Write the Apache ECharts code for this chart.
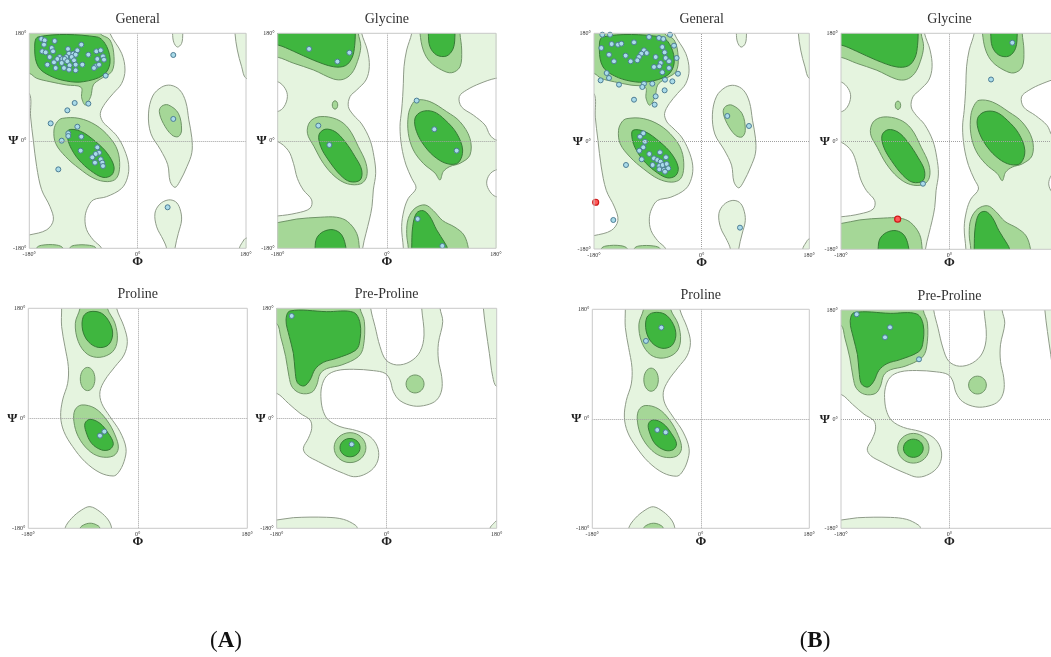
<!DOCTYPE html>
<html><head><meta charset="utf-8">
<script src="https://cdn.jsdelivr.net/npm/echarts@6/dist/echarts.min.js"></script>
<style>html,body{margin:0;padding:0;background:#fff}#c{width:1051px;height:657px}</style>
</head><body><div id="c"></div>
<script>
// ---------- text ----------
const PANEL_TITLES = ['General', 'Glycine', 'Proline', 'Pre-Proline'];
const GROUP_LABELS = ['A', 'B'];
const AXIS_TICKS = [-180, 0, 180];
const PHI_NAME = 'Φ', PSI_NAME = 'Ψ';

// ---------- contour regions [phi, psi] (points beyond ±180 lie outside the frame and are clipped) ----------
// General
const G_LIGHT_MAIN = [[-200,200],[-48,200],[-46,180],[-26.6,146.5],[-21,118.6],[-26.6,96],[-40.4,79.5],[-54,62.8],[-62,46],[-58,32],[-48,22],[-33.7,7],[-22,-15],[-15,-40],[-17,-62],[-27,-80],[-51.5,-93.5],[-73.7,-99],[-83.6,-113],[-87.5,-129.7],[-84.7,-149],[-73.7,-166],[-59.8,-180],[-57,-200],[-200,-200],[-200,-160],[-180,-157.6],[-151,-149],[-140,-132.5],[-145.7,-110],[-159.5,-82],[-167.8,-43],[-173.4,1.4],[-177.8,40],[-180,79.5],[-200,82]];
const G_LIGHT_LA = [[55,93],[70,85],[80,65],[85,35],[90,5],[90,-20],[82,-43],[70,-68],[62,-78],[54,-68],[50,-40],[38,-15],[22,12],[18,45],[25,75],[40,90]];
const G_LIGHT_LOW = [[51,-99],[63,-102],[70,-113],[73,-132.5],[67.6,-155],[62,-180],[62,-200],[48,-200],[48,-180],[42.6,-166],[31.6,-144],[28.8,-121],[37,-106]];
const G_LIGHT_TOP = [[58,200],[58,180],[60,165],[66,157],[73,163],[75,180],[75,200]];
const G_LIGHT_RT = [[161.7,200],[161.7,180],[165.6,152],[172.8,124],[180,104.7],[200,104],[200,200]];
const G_LIGHT_RB = [[169,-200],[169,-180],[174,-170],[180,-163],[200,-163],[200,-200]];
const G_MID_BETA = [[-200,200],[-62.6,200],[-62.6,180],[-46,169],[-39.3,141],[-43,116],[-62.6,103],[-73.7,93.5],[-78,74],[-87,60],[-93,72],[-94,89.6],[-118,93.5],[-145.7,99],[-167.8,104.7],[-180,113],[-200,114]];
const G_MID_ALPHA = [[-125.1,37.6],[-97.4,37.6],[-69.7,26.4],[-47.6,6.9],[-33.7,-15.4],[-29.9,-43.3],[-35.4,-62.9],[-50.4,-68.4],[-72.5,-62.9],[-97.4,-46.1],[-119.6,-26.6],[-136.2,-4.3],[-139,18.1],[-133.4,32]];
const G_MID_LA = [[51,60],[67.6,46],[73,18],[67.6,7],[56.5,10],[42.6,29.3],[36,48.8],[40,58]];
const G_MID_B1 = [[-168,-200],[-168,-180],[-160,-175],[-135,-174.5],[-124,-180],[-124,-200]];
const G_MID_B2 = [[-113,-200],[-113,-180],[-105,-175],[-80,-175],[-69,-180],[-69,-200]];
const G_DARK_BETA = [[-165,174],[-68,174],[-51.5,158],[-46,130],[-57,110],[-90,99],[-118,100],[-146,109],[-165,124],[-171,152]];
const G_DARK_ALPHA = [[-115,18],[-95,16],[-69.7,-1.5],[-50.4,-21],[-39.3,-43.3],[-43.2,-57.3],[-57.6,-61.2],[-78,-50],[-97.4,-32.2],[-109.6,-14.3],[-116,3]];

// Glycine
const GL_FULL = [[-200,200],[200,200],[200,-200],[-200,-200]];
const GL_W_CENTER = [[-43,200],[-41.5,180],[-32.2,152],[-28.9,124.2],[-34.4,101.9],[-49.7,85.1],[-60.7,74],[-63.5,57.2],[-55.2,43.3],[-41.5,28.2],[-27.8,1.4],[-21.2,-26.5],[-18.4,-54.4],[-22.3,-82.3],[-24.5,-110.2],[-28.9,-132.5],[-34.4,-154.9],[-39.9,-180],[-40,-200],[27,-200],[27.2,-180],[24.4,-143.7],[28.3,-115.8],[35.4,-96.3],[48.1,-79.5],[41,-62.8],[31.6,-40.4],[24.4,-9.8],[21.7,23.7],[24.4,51.6],[26.1,74],[27.2,96.3],[28.3,124.2],[32.7,152.1],[41,180],[42,200]];
const GL_W_LBIG = [[-200,0],[-180,-1.4],[-162.4,-16.5],[-154,-37.7],[-147.6,-62.8],[-137.7,-82.3],[-124,-99],[-126.7,-113],[-148.7,-121],[-180,-125.8],[-200,-126]];
const GL_W_LSMALL = [[-200,100],[-180,99],[-168,88],[-164,74],[-169.6,57],[-180,49],[-200,48]];
const GL_W_RBIG = [[200,105],[180,104.7],[153.6,96],[131.6,85],[119.5,74],[123,57],[142.6,43],[161.8,26.5],[170,9.8],[180,1.4],[200,1]];
const GL_W_RSMALL = [[200,-48],[180,-48.8],[169,-57],[164.6,-71],[170,-85],[180,-93.5],[200,-94]];
const GL_MID_TL = [[-200,200],[-47,200],[-47,180],[-43,157.7],[-48.6,132.6],[-58,113],[-71.7,103],[-88,103.5],[-121,118.6],[-154,130],[-180,140],[-200,141]];
const GL_DARK_TL = [[-200,200],[-52,200],[-52,180],[-53,160],[-57,140],[-68,126],[-88,124],[-121,135],[-154,150],[-180,160.5],[-200,161]];
const GL_MID_LL = [[-200,-200],[-200,-137],[-180,-137],[-148.7,-131],[-110,-128],[-82.7,-128],[-65,-135],[-49.7,-155],[-45.3,-180],[-45,-200]];
const GL_DARK_LL = [[-118.4,-200],[-118.4,-180],[-115.7,-163],[-104.7,-152],[-88,-149],[-74.5,-157.6],[-67.3,-180],[-67,-200]];
const GL_MID_TR = [[54.7,200],[54.7,180],[60,152],[71,132.6],[90.4,118.6],[107,114],[120.6,124],[123.4,152],[120.6,180],[120.6,200]];
const GL_DARK_TR = [[68.4,200],[68.4,180],[71,157.7],[82,143.7],[98.6,142],[109.6,155],[112.4,180],[112.4,200]];
const GL_MID_BR = [[35.4,-200],[35.4,-180],[32.7,-155],[35.4,-130],[46.4,-113],[63,-107.4],[76.7,-117],[92,-133.6],[112.4,-144.8],[127,-157.6],[134.4,-180],[134.4,-200]];
const GL_DARK_BR = [[41,-200],[41,-180],[42.6,-143.7],[49,-121],[60,-117],[71,-127],[82,-149],[96,-171.6],[99.7,-180],[99.7,-200]];
const GL_MID_LA = [[-110,40.5],[-82.7,36],[-63.5,21],[-47,-9.8],[-34.4,-37.7],[-33.3,-60],[-43,-72],[-65,-72],[-85.5,-60],[-104.7,-37.7],[-120,-9.8],[-131,12.6],[-126.7,32]];
const GL_DARK_LA = [[-102,19.3],[-85.5,15.4],[-69,-1.4],[-52.5,-26.5],[-41.5,-48.8],[-44,-65.6],[-60.7,-68.4],[-77,-57],[-96.5,-32],[-109,-9.8],[-112,9.8]];
const GL_MID_RA = [[49,68.4],[71,65.6],[98.6,48.8],[120.6,32],[137,4],[137,-24],[120.6,-37.7],[104,-43],[93,-51.6],[87.6,-65.6],[79.4,-54],[60,-37.7],[43.7,-15.4],[35.4,12.6],[35.4,43],[41,60]];
const GL_DARK_RA = [[57.4,48.8],[76.7,48.8],[96,35],[115,12.6],[125,-15.4],[118,-36.5],[101.4,-38.8],[82,-29.3],[62.9,-9.8],[49,15.4],[46.4,37.7]];
const GL_MID_DOT = [-85.5, 60, 4.5, 7];   // ellipse: centre phi, psi, radii

// Proline
const P_LIGHT_MAIN = [[-125.2,200],[-125.2,180],[-125.2,150],[-119.7,117],[-114.2,84.5],[-115.3,57.3],[-123.6,30],[-126.8,2.7],[-121.4,-21.8],[-107,-46.4],[-86.8,-71],[-62.2,-89],[-40.3,-94.4],[-32,-89],[-22.7,-71],[-19.4,-49],[-29.3,-21.8],[-45.7,2.7],[-59.4,24.5],[-62.2,43.6],[-54,62.7],[-37.5,84.5],[-22.7,103.6],[-17.2,125.5],[-22.7,150],[-34.8,180],[-35,200]];
const P_LIGHT_BOT = [[-119.7,-200],[-119.7,-180],[-108.8,-163.6],[-92.3,-150],[-78.6,-144.6],[-62.2,-152.8],[-48.5,-166.4],[-43,-180],[-43,-200]];
const P_MID_TOP = [[-95,200],[-95,180],[-102.7,155.5],[-97.8,125.5],[-83,105],[-62.2,99.8],[-41.4,109],[-33.7,128],[-37.5,155.5],[-50,180],[-50,200]];
const P_DARK_TOP = [[-78.6,174.5],[-59.4,171.8],[-45.7,155.5],[-41.4,136.4],[-48.5,120],[-65,116],[-81.4,125.5],[-90.7,144.5],[-89.6,166.4]];
const P_MID_BLOB = [-82.5, 64.3, 12, 19];
const P_MID_ALPHA = [[-92.3,21.8],[-70.4,16.4],[-51.2,-2.7],[-37.5,-27.3],[-32,-49],[-40.3,-61.6],[-62.2,-62.7],[-81.4,-51.8],[-97.8,-30],[-105,-5.5],[-103.3,13.6]];
const P_DARK_ALPHA = [[-78.6,-1.6],[-62.2,-8.2],[-48.5,-24.5],[-40.3,-41],[-45.7,-50.7],[-59.4,-51.8],[-75.9,-41],[-85.2,-21.8],[-86.8,-8.2]];
const P_MID_BOT = [[-95,-200],[-95,-180],[-86.8,-173.5],[-75.9,-171.8],[-65,-176],[-62.2,-180],[-62,-200]];

// Pre-Proline
const PP_LIGHT_MAIN = [[-200,200],[-26.2,200],[-26.2,180],[-19,150],[-10.9,117.3],[-1.1,95.4],[16.4,87.3],[38.2,92.7],[54.6,109.1],[61.1,136.4],[57.3,180],[57.3,200],[87.3,200],[87.3,180],[91.7,158.2],[84.6,122.7],[84.6,95.4],[90,68.2],[90,46.4],[81.8,30],[65.5,21.8],[43.7,20.2],[21.8,28.9],[10.9,43.6],[5.5,62.7],[-2.7,73.6],[-21.8,78],[-54.5,80.2],[-81.8,78],[-98.2,69.3],[-106.4,51.8],[-107.4,30],[-103.6,10.9],[-95.5,-2.7],[-76.4,-13.6],[-49.1,-20.2],[-27.3,-30],[-15.3,-46.4],[-13.6,-65.5],[-21.8,-81.8],[-38.2,-92.7],[-54.5,-95.5],[-70.9,-90],[-90,-81.8],[-111.8,-70.9],[-130.9,-60],[-136.4,-49.1],[-128.2,-32.7],[-122.7,-16.4],[-125.5,-2.7],[-141.8,8.2],[-160.9,24.5],[-180,40.9],[-200,41]];
const PP_LIGHT_R = [[158.2,200],[158.2,180],[162.5,144.5],[168,106.4],[173.5,68.2],[180,51.8],[200,50],[200,200]];
const PP_LIGHT_BL = [[-200,-200],[-200,-166],[-180,-166.4],[-152.7,-162.6],[-98.2,-162],[-70.9,-165.3],[-51.8,-174.5],[-48,-180],[-48,-200]];
const PP_LIGHT_BR = [[169,-200],[169,-180],[175,-172],[180,-168],[200,-168],[200,-200]];
const PP_MID_TL = [[-200,200],[-43.6,200],[-43.6,180],[-36.5,158.2],[-38.2,117.3],[-46.4,100.9],[-73.6,87.3],[-98.2,81.3],[-109.1,72.5],[-114.5,54.5],[-122.7,42.5],[-140.7,40.9],[-154.4,50.7],[-159.8,68.2],[-165.3,100.9],[-173.5,133.6],[-180,155],[-200,156]];
const PP_DARK_TL = [[-158.2,175.6],[-98.2,174.5],[-54.5,173.5],[-43.6,155.5],[-44.7,122.7],[-51.8,110.7],[-81.8,98.2],[-103.6,91.6],[-117.3,80.2],[-125.5,62.7],[-135.3,52.9],[-146.2,58.4],[-150,79.1],[-152.7,106.4],[-159.3,133.6],[-164.7,160.9]];
const PP_MID_RING = [46.4, 56.2, 14.7, 14.7];
const PP_MID_LOW = [-60, -48, 26, 24.5];
const PP_DARK_LOW = [-60, -48, 16.4, 15];

// ---------- residues [phi, psi] ----------
const A_GENERAL = [[-160,170.5],[-154.5,168.2],[-137.9,167.1],[-155.6,161],[-93.6,161],[-142.8,155.4],[-115.7,153.7],[-100.2,151.5],[-68.6,149.8],[-61.4,151.5],[-158.4,149.8],[-152.8,148.1],[-140.6,149.8],[-114,145.9],[-106.8,145.9],[-103,144.2],[-81.9,144.2],[-57.6,141.4],[-146.2,140.3],[-129.5,140.3],[-118.5,140.3],[-109.6,140.3],[-133.4,137],[-125.1,137],[-121.2,137],[-67,137],[-55.9,135.9],[-105.7,134.7],[-150,127.5],[-139,131.4],[-126.2,130.3],[-116.8,133.1],[-103,127.5],[-113,126.4],[-91.9,127.5],[-69.7,124.7],[-64.2,127.5],[-136.2,121.9],[-122.4,121.9],[-114,119.1],[-103,118],[-72.5,121.9],[-53.1,109.1],[-104.6,63.3],[-81.9,62.2],[-116.8,51],[-144.5,29.2],[-100.2,23.6],[-115.2,12.5],[-115.2,8],[-93.6,6.9],[-126.2,0.2],[-94.7,-16.5],[-67,-11],[-64.2,-19.9],[-69.7,-22.1],[-75.3,-27.7],[-61.4,-31],[-58.7,-36.6],[-70.9,-36.6],[-57.6,-42.2],[-131.8,-47.8],[59.2,143.7],[59.2,36.6],[49.8,-111.3]];
const B_GENERAL = [[-166.1,177.7],[-153.2,177.7],[-88,173.8],[-71.3,172.2],[-64.1,170.5],[-52.9,177.7],[-167.7,155.5],[-150.5,162.1],[-139.9,161],[-134.3,162.7],[-113.1,164.9],[-96.4,151.6],[-91.9,147.1],[-100.9,146],[-65.8,157.1],[-46.2,159.4],[-154.9,144.3],[-127.1,142.7],[-104.8,140.4],[-76.9,140.4],[-61.9,148.2],[-60.2,138.8],[-41.8,138.8],[-146.6,133.2],[-118.7,133.2],[-107.6,134.9],[-68.5,130.4],[-54.6,133.2],[-70.8,124.9],[-79.7,123.8],[-54.6,122.1],[-65.8,114.9],[-39.6,112.6],[-158.8,113.7],[-154.9,105.4],[-168.9,101.5],[-138.2,94.3],[-96.4,95.9],[-99.2,90.4],[-82.5,95.9],[-61.3,102.6],[-49,99.8],[-61.9,84.8],[-113.1,69.2],[-76.9,74.8],[-78.6,60.9],[-97.6,13.1],[-103.1,7.5],[-94.8,-0.9],[-97.6,-10.3],[-104.2,-15.9],[-87.5,-21.4],[-69.7,-18.7],[-100.3,-30.3],[-59.7,-27],[-79.7,-28.7],[-74.1,-31.5],[-68.6,-34.2],[-82,-39.8],[-70.8,-41.5],[-65.2,-39.8],[-58.5,-38.1],[-70.8,-47],[-63,-48.1],[-55.8,-45.4],[-61.3,-50.9],[-126.5,-39.8],[-147.7,-131.6],[42.9,42],[79.1,25.3],[64.1,-144.4]];
const B_GENERAL_OUT = [[-177.2,-102]];
const A_GLYCINE = [[-128.3,153.8],[-81.6,132.6],[-61.8,147.6],[49.2,67.3],[-113,25.4],[-94.8,-7],[78.3,19.3],[115.1,-16.5],[50.8,-130.9],[91.5,-176]];
const B_GLYCINE = [[104.2,164.3],[68.9,103],[-44,-70.7]];
const B_GLYCINE_OUT = [[-86,-129.8]];
const A_PROLINE = [[-55,-21.8],[-62.2,-28.4]];
const B_PROLINE = [[-65.5,149.9],[-91,128],[-72.2,-18.4],[-58.3,-22.2]];
const A_PREPRO = [[-155.5,167.5],[-57.3,-42.6]];
const B_PREPRO = [[-154,172.9],[-98.7,151.4],[-107,134.9],[-50.6,98.7]];

// ---------- layer lists ----------
const LAYERS = {
  General: [
    {lv:'light', p:G_LIGHT_MAIN},{lv:'light', p:G_LIGHT_LA},{lv:'light', p:G_LIGHT_LOW},{lv:'light', p:G_LIGHT_TOP},{lv:'light', p:G_LIGHT_RT},{lv:'light', p:G_LIGHT_RB},
    {lv:'mid', p:G_MID_BETA},{lv:'mid', p:G_MID_ALPHA},{lv:'mid', p:G_MID_LA},{lv:'mid', p:G_MID_B1},{lv:'mid', p:G_MID_B2},
    {lv:'dark', p:G_DARK_BETA},{lv:'dark', p:G_DARK_ALPHA}
  ],
  Glycine: [
    {lv:'light', p:GL_FULL, sharp:true},
    {lv:'white', p:GL_W_CENTER},{lv:'white', p:GL_W_LBIG},{lv:'white', p:GL_W_LSMALL},{lv:'white', p:GL_W_RBIG},{lv:'white', p:GL_W_RSMALL},
    {lv:'mid', p:GL_MID_TL},{lv:'mid', p:GL_MID_LL},{lv:'mid', p:GL_MID_TR},{lv:'mid', p:GL_MID_BR},{lv:'mid', p:GL_MID_LA},{lv:'mid', p:GL_MID_RA},{lv:'mid', e:GL_MID_DOT},
    {lv:'dark', p:GL_DARK_TL},{lv:'dark', p:GL_DARK_LL},{lv:'dark', p:GL_DARK_TR},{lv:'dark', p:GL_DARK_BR},{lv:'dark', p:GL_DARK_LA},{lv:'dark', p:GL_DARK_RA}
  ],
  Proline: [
    {lv:'light', p:P_LIGHT_MAIN},{lv:'light', p:P_LIGHT_BOT},
    {lv:'mid', p:P_MID_TOP},{lv:'mid', e:P_MID_BLOB},{lv:'mid', p:P_MID_ALPHA},{lv:'mid', p:P_MID_BOT},
    {lv:'dark', p:P_DARK_TOP},{lv:'dark', p:P_DARK_ALPHA}
  ],
  'Pre-Proline': [
    {lv:'light', p:PP_LIGHT_MAIN},{lv:'light', p:PP_LIGHT_R},{lv:'light', p:PP_LIGHT_BL},{lv:'light', p:PP_LIGHT_BR},
    {lv:'mid', p:PP_MID_TL},{lv:'mid', e:PP_MID_RING},{lv:'mid', e:PP_MID_LOW},
    {lv:'dark', p:PP_DARK_TL},{lv:'dark', e:PP_DARK_LOW}
  ]
};

// ---------- layout / style ----------
const FILL = {
  light:{fill:'#e5f4df', stroke:'#8f9b89', lineWidth:1},
  white:{fill:'#ffffff', stroke:'#8f9b89', lineWidth:1},
  mid:{fill:'#a5d797', stroke:'#6f9467', lineWidth:1},
  dark:{fill:'#3fb63f', stroke:'#357a35', lineWidth:1}
};
const SERIF = '"Liberation Serif", "DejaVu Serif", serif';
const PANELS = [
  {title:0, rect:[29.3,33.3,216.7,215], pts:A_GENERAL, out:[]},
  {title:1, rect:[277.7,33.3,218.3,215], pts:A_GLYCINE, out:[]},
  {title:2, rect:[28.3,308.3,219,220], pts:A_PROLINE, out:[]},
  {title:3, rect:[276.7,308.3,220,220], pts:A_PREPRO, out:[]},
  {title:0, rect:[594,33.3,215.3,215.7], pts:B_GENERAL, out:B_GENERAL_OUT},
  {title:1, rect:[841,33.3,217,216], pts:B_GLYCINE, out:B_GLYCINE_OUT},
  {title:2, rect:[592.3,309.3,217,219], pts:B_PROLINE, out:[]},
  {title:3, rect:[841,310,217,218.3], pts:B_PREPRO, out:[]}
];

function drawLayer(L, api) {
  const style = FILL[L.lv];
  if (L.e) {
    const c = api.coord([L.e[0], L.e[1]]);
    const s = api.size([L.e[2], L.e[3]]);
    return {type:'ellipse', shape:{cx:c[0], cy:c[1], rx:s[0], ry:s[1]}, style:style};
  }
  const pts = L.p.map(function (d) { return api.coord(d); });
  return {type:'polygon', shape:{points:pts, smooth:L.sharp ? 0 : 0.35}, style:style};
}

const grid = [], xAxis = [], yAxis = [], series = [], graphic = [];
PANELS.forEach(function (P, i) {
  const r = P.rect;
  grid.push({left:r[0], top:r[1], width:r[2], height:r[3], containLabel:false, outerBoundsMode:'none',
    show:true, z:10, backgroundColor:'transparent', borderColor:'#c9c9c9', borderWidth:1});
  const lab = {fontSize:6, color:'#333', fontFamily:SERIF, margin:3, formatter:function (v) { return v + '°'; }};
  xAxis.push({gridIndex:i, type:'value', min:AXIS_TICKS[0], max:AXIS_TICKS[2], interval:180,
    axisLine:{show:false}, axisTick:{show:false}, splitLine:{show:false}, axisLabel:lab,
    name:PHI_NAME, nameLocation:'middle', nameGap:7, nameMoveOverlap:false,
    nameTextStyle:{fontFamily:SERIF, fontSize:13, fontWeight:'bold', color:'#222', verticalAlign:'top'}});
  yAxis.push({gridIndex:i, type:'value', min:AXIS_TICKS[0], max:AXIS_TICKS[2], interval:180,
    axisLine:{show:false}, axisTick:{show:false}, splitLine:{show:false}, axisLabel:lab,
    name:PSI_NAME, nameLocation:'middle', nameGap:11, nameRotate:0, nameMoveOverlap:false,
    nameTextStyle:{fontFamily:SERIF, fontSize:13, fontWeight:'bold', color:'#222', align:'right', verticalAlign:'middle'}});
  const layers = LAYERS[PANEL_TITLES[P.title]];
  series.push({type:'custom', xAxisIndex:i, yAxisIndex:i, clip:true, silent:true, z:1,
    data:layers.map(function (l, k) { return [0, 0, k]; }),
    renderItem:function (params, api) { return drawLayer(layers[params.dataIndex], api); }});
  series.push({type:'scatter', xAxisIndex:i, yAxisIndex:i, silent:true, z:3, data:P.pts, symbolSize:5,
    itemStyle:{color:'#a9dbe9', borderColor:'#4d7d95', borderWidth:1, opacity:1},
    markLine:{silent:true, symbol:['none','none'], label:{show:false}, animation:false,
      lineStyle:{color:'#a0a0a0', type:'dotted', width:1}, data:[{xAxis:0},{yAxis:0}]}});
  if (P.out.length) {
    series.push({type:'scatter', xAxisIndex:i, yAxisIndex:i, silent:true, z:4, data:P.out, symbolSize:6,
      itemStyle:{color:'#ff5a5a', borderColor:'#d01818', borderWidth:1.2, opacity:1}});
  }
  graphic.push({type:'text', x:r[0] + r[2] / 2, y:r[1] - 14,
    style:{text:PANEL_TITLES[P.title], fontSize:14, fontFamily:SERIF, fill:'#333', align:'center', verticalAlign:'middle'}});
});
[[226, 641], [815, 641]].forEach(function (pos, g) {
  graphic.push({type:'text', x:pos[0], y:pos[1],
    style:{text:'{p|(}{b|' + GROUP_LABELS[g] + '}{p|)}', align:'center', verticalAlign:'middle',
      rich:{p:{fontSize:23, fontFamily:SERIF, fill:'#111'}, b:{fontSize:23, fontFamily:SERIF, fontWeight:'bold', fill:'#111'}}}});
});

const chart = echarts.init(document.getElementById('c'), null, {renderer:'canvas'});
chart.setOption({animation:false, backgroundColor:'#ffffff', grid:grid, xAxis:xAxis, yAxis:yAxis, series:series, graphic:graphic});
</script></body></html>
